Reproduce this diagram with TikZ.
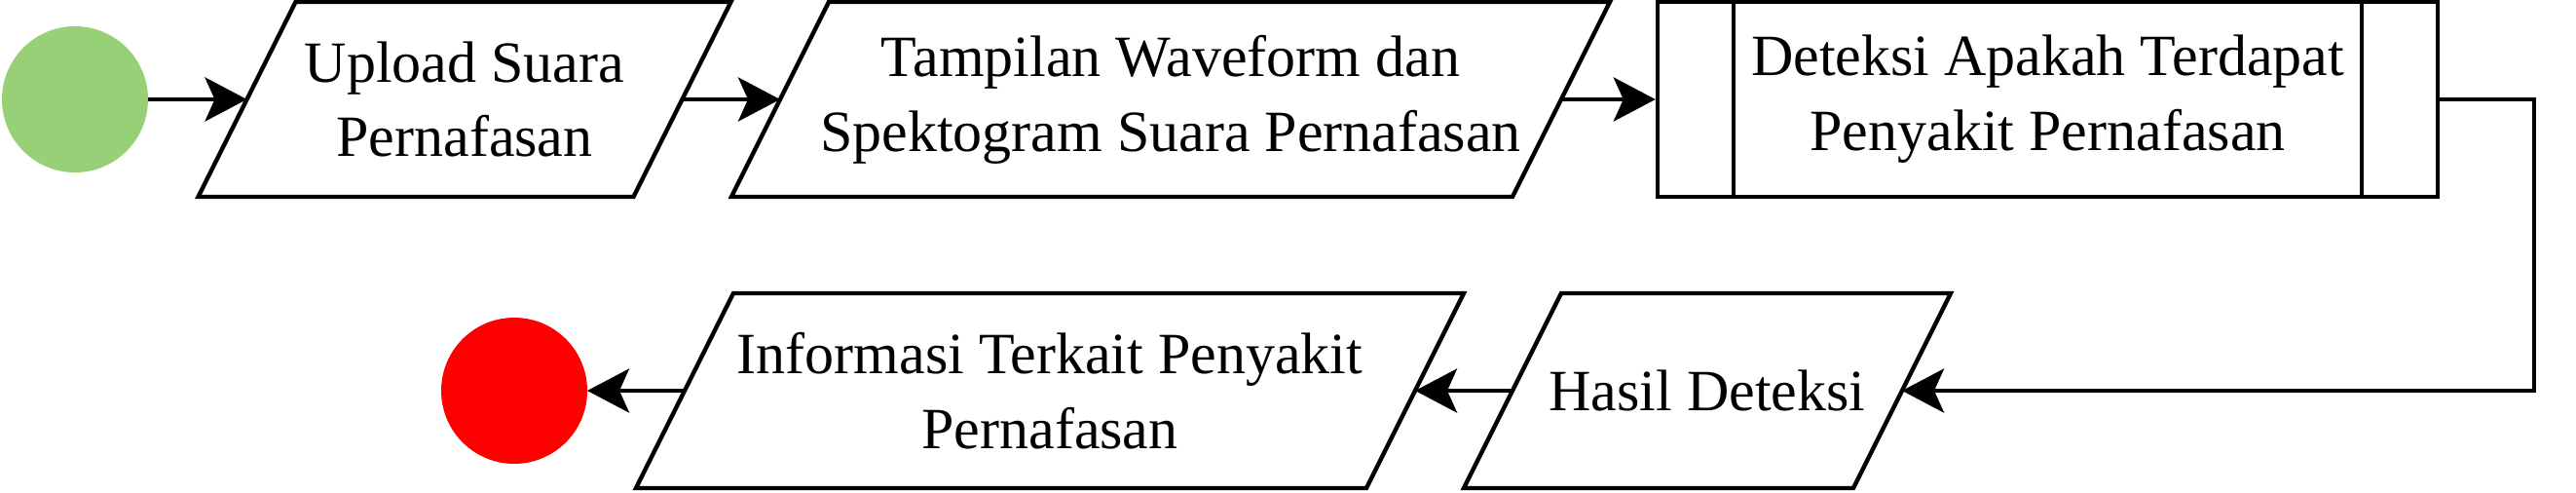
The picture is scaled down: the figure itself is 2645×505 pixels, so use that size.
\documentclass[tikz,border=0pt]{standalone}
\usepackage{fontspec}
\setmainfont{Liberation Serif}
\usepackage{tikz}
\usetikzlibrary{arrows, arrows.meta}

\definecolor{startgreen}{HTML}{97D077}
\definecolor{stopred}{HTML}{FF0000}

\tikzset{
  flow/.style={line width=2.4pt, -{Stealth[length=21.5pt, width=22.5pt, inset=5pt]}},
  outline/.style={line width=2.2pt, line join=miter},
  datanode/.style={rectangle, minimum height=100pt, inner sep=0pt, outer sep=0pt,
    align=center, font=\fontsize{30}{38.4}\selectfont},
  procnode/.style={rectangle, draw, line width=2.2pt, minimum height=100pt, inner sep=0pt,
    align=center, font=\fontsize{30}{38.4}\selectfont},
  terminal/.style={circle, minimum size=75pt, inner sep=0pt, outer sep=0pt}
}

\begin{document}
\begin{tikzpicture}[x=0.5pt, y=-0.5pt]
  \useasboundingbox (0,0) rectangle (2645,505);

  % Coordinates
  \coordinate (S) at (77, 102);
  \coordinate (U) at (477, 102);
  \coordinate (W) at (1202, 102);
  \coordinate (P) at (2102.5, 102);
  \coordinate (H) at (1753, 401);
  \coordinate (I) at (1078, 401);
  \coordinate (E) at (528, 401);
  \coordinate (turn) at (2602, 102);

  % Nodes
  \node[terminal, fill=startgreen] (start) at (S) {};
  \node[datanode, minimum width=223.5pt] (upload) at (U) {Upload Suara\\Pernafasan};
  \node[datanode, minimum width=401pt] (wave) at (W) {Tampilan Waveform dan\\Spektogram Suara Pernafasan};
  \node[procnode, minimum width=400.5pt] (detect) at (P) {Deteksi Apakah Terdapat\\Penyakit Pernafasan};
  \node[datanode, minimum width=200pt] (result) at (H) {Hasil Deteksi};
  \node[datanode, minimum width=375pt] (info) at (I) {Informasi Terkait Penyakit\\Pernafasan};
  \node[terminal, fill=stopred] (stop) at (E) {};

  % Slanted outlines of the data nodes
  \foreach \n in {upload, wave, result, info}
    \draw[outline] ([xshift=-25pt]\n.south west) -- ([xshift=25pt]\n.north west)
      -- ([xshift=25pt]\n.north east) -- ([xshift=-25pt]\n.south east) -- cycle;

  % Inner lines of the process box
  \draw[outline] ([xshift=40pt]detect.north west) -- ([xshift=40pt]detect.south west);
  \draw[outline] ([xshift=-40pt]detect.north east) -- ([xshift=-40pt]detect.south east);

  % Drawing
  \draw[flow] (start) -- (upload.west);
  \draw[flow] (upload.east) -- (wave.west);
  \draw[flow] (wave.east) -- (detect.west);
  \draw[flow] (detect.east) -- (turn) |- (result.east);
  \draw[flow] (result.west) -- (info.east);
  \draw[flow] (info.west) -- (stop);
\end{tikzpicture}
\end{document}
